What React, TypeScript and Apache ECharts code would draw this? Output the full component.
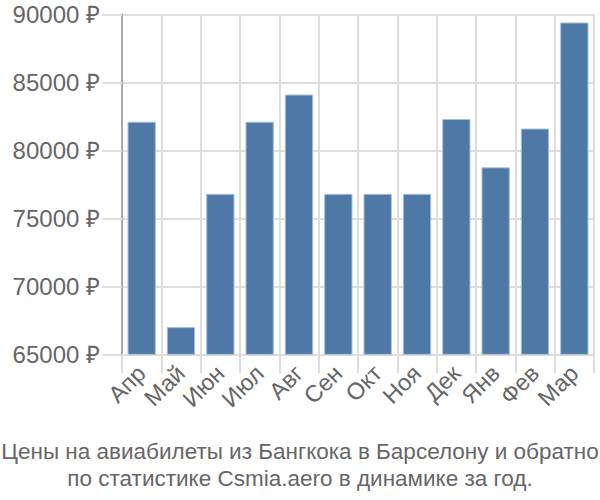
import React, { useEffect, useRef } from "react";
import * as echarts from "echarts";

const categories = ["Апр", "Май", "Июн", "Июл", "Авг", "Сен", "Окт", "Ноя", "Дек", "Янв", "Фев", "Мар"];
const prices = [82100, 67000, 76800, 82100, 84100, 76800, 76800, 76800, 82300, 78750, 81600, 89400];
const yMin = 65000;
const yMax = 90000;
const yStep = 5000;
const titleText = "Цены на авиабилеты из Бангкока в Барселону и обратно\nпо статистике Csmia.aero в динамике за год.";

export default function App() {
  const ref = useRef<HTMLDivElement>(null);
  useEffect(() => {
    if (!ref.current) return;
    const chart = echarts.init(ref.current, undefined, { renderer: "svg" });
    const font = "'Liberation Sans', Arial, sans-serif";
    chart.setOption({
      animation: false,
      title: {
        text: titleText,
        left: "center",
        top: 433,
        textStyle: { fontFamily: font, fontSize: 22.5, fontWeight: "normal", color: "#666", lineHeight: 27 },
      },
      grid: { left: 122, right: 6, top: 14.3, bottom: 145.7, containLabel: false },
      xAxis: {
        type: "category",
        data: categories,
        axisLine: { show: true, lineStyle: { color: "#ddd", width: 2 } },
        axisTick: { show: true, length: 19, lineStyle: { color: "#ddd", width: 2 } },
        splitLine: { show: true, lineStyle: { color: "#ddd", width: 2 } },
        axisLabel: { rotate: 45, fontFamily: font, fontSize: 23.5, color: "#666", margin: 15, interval: 0 },
      },
      yAxis: {
        type: "value",
        min: yMin,
        max: yMax,
        interval: yStep,
        axisLine: { show: true, lineStyle: { color: "#aaa", width: 2 } },
        axisTick: { show: true, length: 20, lineStyle: { color: "#ddd", width: 2 } },
        splitLine: { show: true, lineStyle: { color: "#ddd", width: 2 } },
        axisLabel: { fontFamily: font, fontSize: 24, color: "#666", margin: 22, formatter: (v: number) => v + " ₽" },
      },
      series: [
        {
          type: "bar",
          data: prices,
          barCategoryGap: "28%",
          itemStyle: { color: "#4e79a7", borderColor: "#a9bfd8", borderWidth: 1 },
        },
      ],
    });
    return () => chart.dispose();
  }, []);
  return <div ref={ref} style={{ width: 600, height: 500, position: "absolute", left: 0, top: 0 }} />;
}
